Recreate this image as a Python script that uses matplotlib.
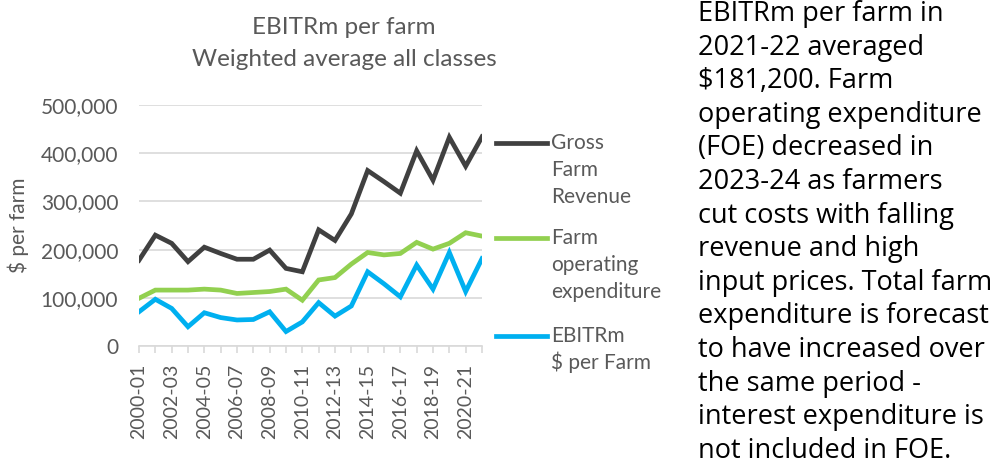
import matplotlib
matplotlib.use("Agg")
import matplotlib.pyplot as plt

years = ["2000-01", "2001-02", "2002-03", "2003-04", "2004-05", "2005-06", "2006-07",
         "2007-08", "2008-09", "2009-10", "2010-11", "2011-12", "2012-13", "2013-14",
         "2014-15", "2015-16", "2016-17", "2017-18", "2018-19", "2019-20", "2020-21",
         "2021-22"]
gross_revenue = [178000, 230000, 213000, 175000, 205000, 192000, 180000, 180000, 199000,
                 161000, 154000, 241000, 219000, 274000, 364000, 341000, 317000, 405000,
                 344000, 433000, 373000, 434000]
operating_exp = [99000, 116000, 116000, 116000, 118000, 116000, 109000, 111000, 113000,
                 118000, 95000, 137000, 142000, 170000, 194000, 189000, 192000, 215000,
                 201000, 213000, 235000, 228000]
ebitrm = [71000, 97000, 78000, 40000, 69000, 59000, 54000, 55000, 71000, 30000, 50000,
          90000, 62000, 83000, 154000, 129000, 102000, 168000, 118000, 194000, 113000,
          181200]
series_names = [["Gross", "Farm", "Revenue"], ["Farm", "operating", "expenditure"],
                ["EBITRm", "$ per Farm"]]
yticks = [0, 100000, 200000, 300000, 400000, 500000]
para_lines = ["EBITRm per farm in", "2021-22 averaged", "$181,200. Farm",
              "operating expenditure", "(FOE) decreased in", "2023-24 as farmers",
              "cut costs with falling", "revenue and high", "input prices. Total farm",
              "expenditure is forecast", "to have increased over", "the same period -",
              "interest expenditure is", "not included in FOE."]

colors = ["#404040", "#92D050", "#00B0F0"]
gray = "#595959"
font = "Lato"
H = 467.0

fig = plt.figure(figsize=(9.97, 4.67), dpi=100)
ax = fig.add_axes([139/997, 1 - 346/H, (482 - 139)/997, (346 - 105)/H])

x = list(range(len(years)))
for vals, c in zip([gross_revenue, operating_exp, ebitrm], colors):
    ax.plot(x, vals, color=c, lw=3.4, solid_joinstyle="miter", zorder=3)

ax.set_xlim(0, len(years) - 1)
ax.set_ylim(0, 500000)
ax.set_yticks(yticks)
ax.set_yticklabels([f"{v:,}" for v in yticks], fontsize=15, color=gray, family=font)
ax.set_xticks(x[::2])
ax.set_xticklabels(years[::2], rotation=90, fontsize=14, color=gray, family=font)
ax.set_xticks(x, minor=True)
ax.tick_params(axis="y", length=0, pad=15)
ax.tick_params(axis="x", which="both", length=5, color="#d9d9d9", width=1.2, pad=8)
ax.grid(axis="y", color="#d9d9d9", lw=1.2, zorder=0)
for s in ["top", "right", "left"]:
    ax.spines[s].set_visible(False)
ax.spines["bottom"].set_color("#d9d9d9")
ax.spines["bottom"].set_linewidth(1.2)

ax.set_ylabel("$ per farm", fontsize=15, color=gray, family=font)
ax.yaxis.set_label_coords(-0.322, 0.5)

fig.text(344/997, 1 - 27/H, "EBITRm per farm", ha="center", va="center",
         fontsize=17.5, color=gray, family=font)
fig.text(344/997, 1 - 60/H, "Weighted average all classes", ha="center", va="center",
         fontsize=17.5, color=gray, family=font)

# legend
leg_y = [143, 238, 336]
for names, c, yy in zip(series_names, colors, leg_y):
    fig.add_artist(plt.Line2D([496/997, 547/997], [1 - yy/H, 1 - yy/H], color=c, lw=3.4))
    for i, nm in enumerate(names):
        fig.text(551/997, 1 - (yy + 6 + i * 26.8)/H, nm, ha="left", va="baseline",
                 fontsize=15, color=gray, family=font)

for i, ln in enumerate(para_lines):
    fig.text(698/997, 1 - (21 + i * 33.6)/H, ln, ha="left", va="baseline",
             fontsize=19.5, color="black", family="Open Sans")

fig.savefig("out.png", dpi=100)
